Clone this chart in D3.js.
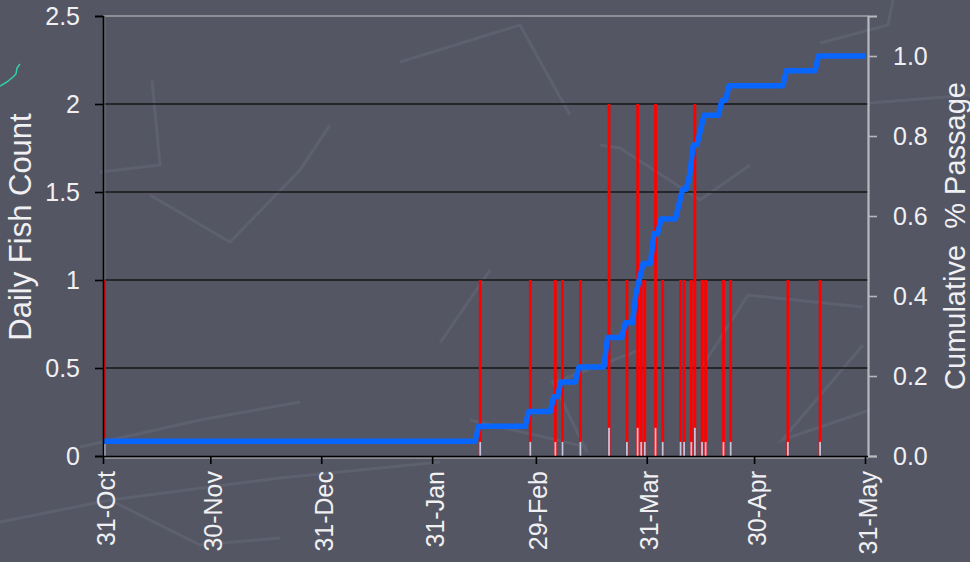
<!DOCTYPE html>
<html>
<head>
<meta charset="utf-8">
<script src="https://cdn.jsdelivr.net/npm/d3@7"></script>
<style>
  html, body { margin: 0; padding: 0; background: #545664; }
  svg { display: block; font-family: "Liberation Sans", Arial, sans-serif; }
</style>
</head>
<body>
<svg id="chart" width="970" height="562"></svg>
<script>
// Daily fish counts at the trap, one entry per day with a catch
const fishDates = [
  "2019-10-31", "2020-02-13", "2020-02-27", "2020-03-05", "2020-03-07",
  "2020-03-12", "2020-03-20", "2020-03-25", "2020-03-28", "2020-03-29",
  "2020-03-30", "2020-04-02", "2020-04-04", "2020-04-09", "2020-04-10",
  "2020-04-12", "2020-04-13", "2020-04-15", "2020-04-16", "2020-04-21",
  "2020-04-23", "2020-05-09", "2020-05-18"
];
const fishCounts = [
  1, 1, 1, 1, 1,
  1, 2, 1, 2, 1,
  1, 2, 1, 1, 1,
  1, 2, 1, 1, 1,
  1, 1, 1
];
const seasonStart = "2019-10-31";
const seasonEnd = "2020-05-31";
const dateTicks = [
  "2019-10-31", "2019-11-30", "2019-12-31", "2020-01-31",
  "2020-02-29", "2020-03-31", "2020-04-30", "2020-05-31"
];
const countTicks = [0, 0.5, 1, 1.5, 2, 2.5];
const passageTicks = [0, 0.2, 0.4, 0.6, 0.8, 1.0];

const parse = d3.utcParse("%Y-%m-%d");
const svg = d3.select("#chart");

// faint decorative strokes of the slide backdrop
const backdrop = [
  [[100, 172], [160, 165], [152, 80]],
  [[150, 195], [230, 242], [300, 170], [330, 125]],
  [[400, 62], [520, 25], [570, 115]],
  [[80, 447], [200, 420], [300, 402]],
  [[110, 500], [280, 478], [440, 462]],
  [[0, 522], [110, 500], [200, 545], [280, 538]],
  [[440, 343], [490, 270]],
  [[470, 420], [587, 447]],
  [[553, 383], [640, 350]],
  [[552, 380], [587, 452]],
  [[600, 145], [620, 148], [700, 200], [750, 165]],
  [[700, 370], [748, 295], [863, 307]],
  [[870, 410], [782, 440], [863, 345]],
  [[820, 43], [888, 25], [893, 0]],
  [[870, 103], [970, 95]]
];
svg.append("g")
  .selectAll("path")
  .data(backdrop)
  .join("path")
  .attr("d", d3.line())
  .attr("fill", "none")
  .attr("stroke", "#5d606f")
  .attr("stroke-width", 3);

// small stray teal stroke near the top-left corner
svg.append("path")
  .attr("d", "M0,86 L7,82 L13,77 L16,74 L17,68 L20,64")
  .attr("fill", "none")
  .attr("stroke", "#2fd6a8")
  .attr("stroke-width", 1.5);

const plotLeft = 103, plotRight = 865, frameRight = 868, plotTop = 16, plotBottom = 456;

const x = d3.scaleUtc()
  .domain([parse(seasonStart), parse(seasonEnd)])
  .range([plotLeft, plotRight]);
const yCount = d3.scaleLinear().domain([0, 2.5]).range([plotBottom, plotTop]);
const yShare = d3.scaleLinear().domain([0, 1.1]).range([plotBottom, plotTop]);

// horizontal grid
svg.append("g")
  .selectAll("line")
  .data(countTicks.filter(t => t > 0 && t < 2.5))
  .join("line")
  .attr("x1", plotLeft).attr("x2", frameRight)
  .attr("y1", d => yCount(d)).attr("y2", d => yCount(d))
  .attr("stroke", "#161618")
  .attr("stroke-width", 1.6);

// plot frame
svg.append("line")
  .attr("x1", plotLeft).attr("x2", frameRight)
  .attr("y1", plotTop).attr("y2", plotTop)
  .attr("stroke", "#8e8f96").attr("stroke-width", 2);
svg.append("line")
  .attr("x1", plotLeft + 1.8).attr("x2", plotLeft + 1.8)
  .attr("y1", plotTop).attr("y2", plotBottom)
  .attr("stroke", "#7d7f88").attr("stroke-width", 1);
svg.append("line")
  .attr("x1", plotLeft).attr("x2", frameRight)
  .attr("y1", plotBottom + 2).attr("y2", plotBottom + 2)
  .attr("stroke", "#8a8b92").attr("stroke-width", 2);

// daily count bars
const bars = fishDates.map((d, i) => ({ date: parse(d), count: fishCounts[i] }));
const barW = 2.8, barShift = 1.6;
svg.append("g")
  .selectAll("rect")
  .data(bars)
  .join("rect")
  .attr("x", d => x(d.date) + barShift - barW / 2)
  .attr("width", barW)
  .attr("y", d => yCount(d.count))
  .attr("height", d => plotBottom - yCount(d.count))
  .attr("fill", "#ff0000");
// lighter foot on every bar
svg.append("g")
  .selectAll("rect")
  .data(bars)
  .join("rect")
  .attr("x", d => x(d.date) + barShift - 0.9)
  .attr("width", 1.8)
  .attr("y", d => plotBottom - 0.08 * (plotBottom - yCount(d.count)))
  .attr("height", d => 0.08 * (plotBottom - yCount(d.count)))
  .attr("fill", "#c3c6de");

// cumulative share of the season's total, day by day
const total = d3.sum(fishCounts);
const countByDay = d3.rollup(bars, v => d3.sum(v, d => d.count), d => +d.date);
const days = d3.utcDay.range(parse(seasonStart), d3.utcDay.offset(parse(seasonEnd), 1));
let running = 0;
const cumulative = days.map(day => {
  running += countByDay.get(+day) || 0;
  return { date: day, share: running / total };
});
svg.append("path")
  .datum(cumulative)
  .attr("d", d3.line().x(d => x(d.date)).y(d => yShare(d.share)))
  .attr("fill", "none")
  .attr("stroke", "#0866ff")
  .attr("stroke-width", 5.5)
  .attr("stroke-linejoin", "round");

const textColor = "#f0f0f2";
const tickFont = 25;

// left axis
const gLeft = svg.append("g")
  .attr("transform", `translate(${plotLeft},0)`)
  .call(d3.axisLeft(yCount).tickValues(countTicks).tickSize(8).tickPadding(15)
    .tickFormat(d3.format("")));
gLeft.select(".domain").attr("stroke", "#000").attr("stroke-width", 1.6);
gLeft.selectAll(".tick line").attr("stroke", "#000").attr("stroke-width", 1.6);
gLeft.selectAll("text").attr("fill", textColor).style("font-size", tickFont + "px");

// right axis
const gRight = svg.append("g")
  .attr("transform", `translate(${frameRight},0)`)
  .call(d3.axisRight(yShare).tickValues(passageTicks).tickSize(9).tickPadding(16)
    .tickFormat(d3.format(".1f")));
gRight.select(".domain").attr("stroke", "#b8b9bf").attr("stroke-width", 2.2);
gRight.selectAll(".tick line").attr("stroke", "#b8b9bf").attr("stroke-width", 1.6);
gRight.selectAll("text").attr("fill", textColor).style("font-size", tickFont + "px");

// bottom date axis
const gBottom = svg.append("g")
  .attr("transform", `translate(0,${plotBottom})`)
  .call(d3.axisBottom(x).tickValues(dateTicks.map(parse)).tickSize(8)
    .tickFormat(d3.utcFormat("%d-%b")));
gBottom.select(".domain").attr("stroke", "#000").attr("stroke-width", 1.6)
  .attr("d", `M${plotLeft},0.5H${frameRight}`);
gBottom.selectAll(".tick line").attr("stroke", "#000").attr("stroke-width", 1.6);
gBottom.selectAll("text")
  .attr("fill", textColor)
  .style("font-size", tickFont + "px")
  .attr("transform", "rotate(-90)")
  .attr("text-anchor", "end")
  .attr("x", -15)
  .attr("y", 2)
  .attr("dy", "0.36em");

// axis titles
svg.append("text")
  .attr("transform", "translate(31,227) rotate(-90)")
  .attr("text-anchor", "middle")
  .attr("fill", textColor)
  .style("font-size", "31px")
  .text("Daily Fish Count");
svg.append("text")
  .attr("transform", "translate(965,236) rotate(-90)")
  .attr("text-anchor", "middle")
  .attr("fill", textColor)
  .style("font-size", "29px")
  .style("white-space", "pre")
  .text("Cumulative  % Passage");
</script>
</body>
</html>
